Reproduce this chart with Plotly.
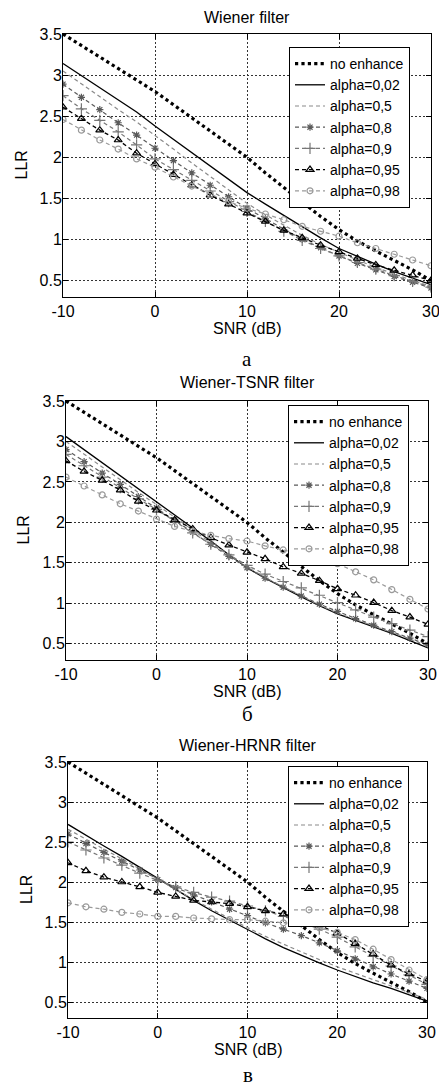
import plotly.graph_objects as go

# ---------------- data ----------------
snr = [-10, -8, -6, -4, -2, 0, 2, 4, 6, 8, 10, 12, 14, 16, 18, 20, 22, 24, 26, 28, 30]
x_ticks = [-10, 0, 10, 20, 30]
x_tick_text = ["-10", "0", "10", "20", "30"]
y_ticks = [0.5, 1, 1.5, 2, 2.5, 3, 3.5]
y_tick_text = ["0.5", "1", "1.5", "2", "2.5", "3", "3.5"]

series_names = ["no enhance", "alpha=0,02", "alpha=0,5", "alpha=0,8", "alpha=0,9", "alpha=0,95", "alpha=0,98"]
panel_titles = ["Wiener filter", "Wiener-TSNR filter", "Wiener-HRNR filter"]
panel_letters = ["а", "б", "в"]

no_enhance = [3.50, 3.36, 3.22, 3.08, 2.94, 2.80, 2.64, 2.48, 2.32, 2.16, 2.00, 1.81, 1.63, 1.45, 1.28, 1.12, 0.98, 0.86, 0.75, 0.63, 0.50]

# Panel a: Wiener filter
w_002 = [3.14, 2.99, 2.85, 2.70, 2.55, 2.38, 2.22, 2.06, 1.90, 1.73, 1.57, 1.43, 1.29, 1.16, 1.02, 0.89, 0.79, 0.70, 0.61, 0.53, 0.45]
w_05 = [3.05, 2.89, 2.74, 2.58, 2.43, 2.27, 2.10, 1.93, 1.77, 1.60, 1.44, 1.30, 1.17, 1.05, 0.94, 0.84, 0.75, 0.66, 0.58, 0.50, 0.43]
w_08 = [2.89, 2.73, 2.58, 2.42, 2.27, 2.11, 1.96, 1.81, 1.66, 1.52, 1.38, 1.25, 1.12, 1.00, 0.90, 0.80, 0.71, 0.63, 0.55, 0.48, 0.41]
w_09 = [2.75, 2.59, 2.45, 2.31, 2.15, 1.98, 1.85, 1.72, 1.59, 1.46, 1.34, 1.22, 1.10, 0.99, 0.89, 0.80, 0.72, 0.64, 0.56, 0.49, 0.42]
w_095 = [2.61, 2.47, 2.33, 2.21, 2.05, 1.92, 1.79, 1.66, 1.54, 1.43, 1.32, 1.22, 1.11, 1.02, 0.93, 0.85, 0.77, 0.69, 0.625, 0.565, 0.50]
w_098 = [2.46, 2.33, 2.21, 2.10, 1.98, 1.88, 1.76, 1.65, 1.55, 1.46, 1.38, 1.31, 1.24, 1.16, 1.10, 1.04, 0.96, 0.89, 0.82, 0.75, 0.68]

# Panel б: Wiener-TSNR filter
t_002 = [3.06, 2.90, 2.74, 2.58, 2.42, 2.26, 2.10, 1.93, 1.77, 1.60, 1.44, 1.31, 1.19, 1.08, 0.97, 0.87, 0.79, 0.71, 0.63, 0.54, 0.45]
t_05 = [3.00, 2.84, 2.68, 2.53, 2.37, 2.22, 2.06, 1.91, 1.75, 1.60, 1.45, 1.32, 1.20, 1.09, 0.98, 0.88, 0.80, 0.72, 0.64, 0.56, 0.47]
t_08 = [2.90, 2.75, 2.61, 2.47, 2.32, 2.18, 2.03, 1.88, 1.73, 1.58, 1.44, 1.31, 1.20, 1.09, 0.99, 0.90, 0.81, 0.73, 0.65, 0.57, 0.49]
t_09 = [2.84, 2.70, 2.56, 2.43, 2.29, 2.16, 2.01, 1.87, 1.73, 1.60, 1.47, 1.36, 1.27, 1.19, 1.10, 1.01, 0.92, 0.83, 0.75, 0.67, 0.59]
t_095 = [2.76, 2.63, 2.52, 2.40, 2.26, 2.15, 2.03, 1.92, 1.81, 1.72, 1.63, 1.55, 1.45, 1.37, 1.28, 1.18, 1.10, 1.01, 0.91, 0.83, 0.74]
t_098 = [2.56, 2.45, 2.34, 2.23, 2.14, 2.04, 1.95, 1.89, 1.84, 1.80, 1.77, 1.71, 1.66, 1.61, 1.55, 1.49, 1.39, 1.29, 1.17, 1.05, 0.93]

# Panel в: Wiener-HRNR filter
h_002 = [2.72, 2.58, 2.45, 2.32, 2.18, 2.04, 1.90, 1.77, 1.64, 1.52, 1.40, 1.29, 1.18, 1.08, 0.99, 0.90, 0.82, 0.74, 0.67, 0.59, 0.51]
h_05 = [2.66, 2.53, 2.41, 2.29, 2.16, 2.03, 1.90, 1.78, 1.66, 1.54, 1.43, 1.32, 1.22, 1.12, 1.03, 0.94, 0.86, 0.78, 0.70, 0.62, 0.53]
h_08 = [2.60, 2.48, 2.37, 2.26, 2.15, 2.03, 1.93, 1.84, 1.75, 1.66, 1.58, 1.49, 1.41, 1.33, 1.24, 1.14, 1.04, 0.94, 0.85, 0.76, 0.67]
h_09 = [2.50, 2.40, 2.30, 2.21, 2.11, 2.02, 1.94, 1.87, 1.81, 1.76, 1.70, 1.64, 1.57, 1.50, 1.41, 1.31, 1.19, 1.07, 0.95, 0.84, 0.72]
h_095 = [2.24, 2.14, 2.06, 2.00, 1.94, 1.87, 1.82, 1.77, 1.75, 1.73, 1.69, 1.64, 1.60, 1.54, 1.46, 1.36, 1.23, 1.10, 0.96, 0.85, 0.76]
h_098 = [1.74, 1.69, 1.66, 1.62, 1.60, 1.57, 1.57, 1.55, 1.54, 1.53, 1.53, 1.51, 1.49, 1.48, 1.43, 1.37, 1.28, 1.16, 1.03, 0.90, 0.78]

panels_data = [
    [no_enhance, w_002, w_05, w_08, w_09, w_095, w_098],
    [no_enhance, t_002, t_05, t_08, t_09, t_095, t_098],
    [no_enhance, h_002, h_05, h_08, h_09, h_095, h_098],
]

# ---------------- styles ----------------
W, H = 439, 1086
FONT = "Liberation Sans, Arial, sans-serif"
SERIF = "Liberation Serif, Times New Roman, serif"

styles = [
    dict(color="#000000", width=3.2, dash="dot", symbol=None, msize=0),
    dict(color="#000000", width=1.3, dash="solid", symbol=None, msize=0),
    dict(color="#8a8a8a", width=1.2, dash="4px,3px", symbol=None, msize=0),
    dict(color="#5a5a5a", width=1.2, dash="4px,3px", symbol="asterisk-open", msize=6),
    dict(color="#777777", width=1.2, dash="4px,3px", symbol="cross-thin-open", msize=8),
    dict(color="#000000", width=1.3, dash="4px,3px", symbol="triangle-up-open", msize=7),
    dict(color="#9a9a9a", width=1.2, dash="4px,3px", symbol="circle-open", msize=6),
]

# pixel boxes of the three plot areas (left, right, top, bottom)
boxes = [(63, 431, 34, 297), (66, 428, 401, 660), (68, 427, 762, 1018)]
title_y = [17, 383, 745]
xlabel_y = [328, 691, 1049]
ylabel_x = [21, 23, 26]
letter_y = [359, 714, 1075]
legend_top = [47, 405, 766]
legend_left = [289, 288, 288]

fig = go.Figure()

for p, data in enumerate(panels_data):
    sfx = "" if p == 0 else str(p + 1)
    leg = "legend" + sfx
    for name, vals, st in zip(series_names, data, styles):
        mode = "lines+markers" if st["symbol"] else "lines"
        tr = dict(
            x=snr, y=vals, name=name, mode=mode,
            xaxis="x" + sfx, yaxis="y" + sfx, legend=leg,
            line=dict(color=st["color"], width=st["width"], dash=st["dash"]),
        )
        if st["symbol"]:
            tr["marker"] = dict(symbol=st["symbol"], size=st["msize"], color=st["color"],
                                line=dict(color=st["color"], width=1.2))
        fig.add_trace(go.Scatter(**tr))

layout = dict(
    width=W, height=H,
    margin=dict(l=0, r=0, t=0, b=0),
    paper_bgcolor="white", plot_bgcolor="white",
    font=dict(family=FONT, size=16, color="black"),
    showlegend=True,
)

annotations = []
for p, (l, r, t, b) in enumerate(boxes):
    sfx = "" if p == 0 else str(p + 1)
    ax_common = dict(
        showline=True, linecolor="black", linewidth=1, mirror="ticks",
        ticks="inside", ticklen=5, tickcolor="black", tickwidth=1,
        showgrid=True, gridcolor="#333333", gridwidth=1, griddash="2px,2px",
        zeroline=False, tickfont=dict(family=FONT, size=16, color="black"),
        automargin=False, ticklabeloverflow="allow",
    )
    layout["xaxis" + sfx] = dict(
        ax_common, domain=[l / W, r / W], range=[-10, 30],
        tickmode="array", tickvals=x_ticks, ticktext=x_tick_text,
        anchor="y" + sfx,
    )
    layout["yaxis" + sfx] = dict(
        ax_common, domain=[1 - b / H, 1 - t / H], range=[0.3, 3.5],
        tickmode="array", tickvals=y_ticks, ticktext=y_tick_text,
        anchor="x" + sfx, ticklabelstandoff=-3,
    )
    layout["legend" + sfx] = dict(
        x=legend_left[p] / W, y=1 - legend_top[p] / H, xanchor="left", yanchor="top",
        xref="paper", yref="paper",
        bgcolor="white", bordercolor="black", borderwidth=1,
        font=dict(family=FONT, size=14, color="black"),
        itemwidth=30, tracegroupgap=0,
    )
    cx = (l + r) / 2 / W
    annotations.append(dict(text=panel_titles[p], x=cx, y=1 - title_y[p] / H, xref="paper", yref="paper",
                            showarrow=False, xanchor="center", yanchor="middle",
                            font=dict(family=FONT, size=16, color="black")))
    annotations.append(dict(text="SNR (dB)", x=cx, y=1 - xlabel_y[p] / H, xref="paper", yref="paper",
                            showarrow=False, xanchor="center", yanchor="middle",
                            font=dict(family=FONT, size=16, color="black")))
    annotations.append(dict(text="LLR", x=ylabel_x[p] / W, y=1 - (t + b) / 2 / H, xref="paper", yref="paper",
                            showarrow=False, xanchor="center", yanchor="middle", textangle=-90,
                            font=dict(family=FONT, size=16, color="black")))
    annotations.append(dict(text=panel_letters[p], x=cx, y=1 - letter_y[p] / H, xref="paper", yref="paper",
                            showarrow=False, xanchor="center", yanchor="middle",
                            font=dict(family=SERIF, size=21, color="black")))

layout["annotations"] = annotations
fig.update_layout(**layout)

fig.write_html(
    "out.html",
    config={"displayModeBar": False},
    post_script="document.body.style.margin='0';document.body.style.overflow='hidden';",
)
